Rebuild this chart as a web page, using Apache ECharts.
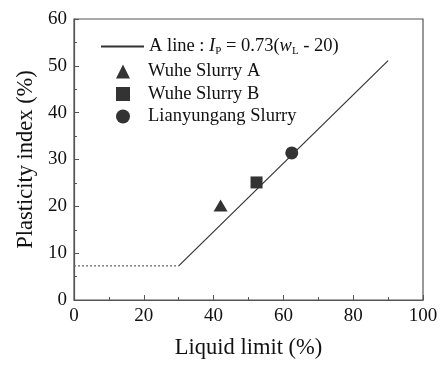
<!DOCTYPE html>
<html><head><meta charset="utf-8">
<script src="https://cdn.jsdelivr.net/npm/echarts@6/dist/echarts.min.js"></script>
<style>html,body{margin:0;padding:0;background:#fff}#c{width:442px;height:365px}</style>
</head><body><div id="c"></div>
<script>
// A line: Ip = 0.73 (wL - 20), drawn from wL = 30 to 90
var aLineX = [30, 90];
var aLineY = [7.3, 51.1];
// dotted horizontal extension
var dotX = [0, 30];
var dotY = [7.3, 7.3];
// samples
var wuheA = [[42, 20.2]];
var wuheB = [[52.3, 25.1]];
var lianyungang = [[62.4, 31.4]];
var xTicks = [0, 20, 40, 60, 80, 100];
var yTicks = [0, 10, 20, 30, 40, 50, 60];

var FONT = '"Liberation Serif", "DejaVu Serif", serif';
var chart = echarts.init(document.getElementById('c'), null, {renderer: 'canvas'});
function zip(a, b) { return a.map(function (v, i) { return [v, b[i]]; }); }
var axisColor = '#555';
var LF = 18.5;
chart.setOption({
  animation: false,
  textStyle: {fontFamily: FONT},
  grid: {left: 74, right: 19, top: 19, bottom: 64, show: true, borderColor: axisColor, borderWidth: 1.2},
  legend: [{
    orient: 'vertical', left: 95, top: 32, itemWidth: 43, itemHeight: 14,
    data: [{name: 'A', itemStyle: {opacity: 0}}],
    textStyle: {fontFamily: FONT, fontSize: LF, color: '#111',
      rich: {
        n: {fontFamily: FONT, fontSize: LF, color: '#111'},
        i: {fontFamily: FONT, fontSize: LF, fontStyle: 'italic', color: '#111'},
        s: {fontFamily: FONT, fontSize: 11, color: '#111', padding: [9, 0, 0, 0]}
      }},
    formatter: function () {
      return '{n|A line : }{i|I}{s|P}{n| = 0.73(}{i|w}{s|L}{n| - 20)}';
    }
  }, {
    orient: 'vertical', left: 111, top: 56, itemWidth: 14, itemHeight: 14, itemGap: 1.5,
    data: ['Wuhe Slurry A', 'Wuhe Slurry B', 'Lianyungang Slurry'],
    textStyle: {fontFamily: FONT, fontSize: LF, color: '#111', padding: [0, 0, 0, 13], lineHeight: 21}
  }],
  xAxis: {
    type: 'value', min: 0, max: 100, interval: 20,
    name: 'Liquid limit (%)', nameLocation: 'middle', nameGap: 37,
    nameTextStyle: {fontFamily: FONT, fontSize: 22.5, color: '#111'},
    axisLine: {show: true, lineStyle: {color: axisColor, width: 1.2}},
    axisTick: {show: true, inside: true, length: 5, lineStyle: {color: axisColor}},
    minorTick: {show: true, splitNumber: 2, length: 3, lineStyle: {color: axisColor}},
    splitLine: {show: false},
    axisLabel: {fontFamily: FONT, fontSize: 19, color: '#111', margin: 7,
      formatter: function (v) { return xTicks.indexOf(v) >= 0 ? String(v) : ''; }}
  },
  yAxis: {
    type: 'value', min: 0, max: 60, interval: 10,
    name: 'Plasticity index (%)', nameLocation: 'middle', nameGap: 36,
    nameTextStyle: {fontFamily: FONT, fontSize: 22.5, color: '#111'},
    axisLine: {show: true, lineStyle: {color: axisColor, width: 1.2}},
    axisTick: {show: true, inside: true, length: 5, lineStyle: {color: axisColor}},
    minorTick: {show: true, splitNumber: 2, length: 3, lineStyle: {color: axisColor}},
    splitLine: {show: false},
    axisLabel: {fontFamily: FONT, fontSize: 19, color: '#111', margin: 7,
      formatter: function (v) { return yTicks.indexOf(v) >= 0 ? String(v) : ''; }}
  },
  series: [
    {name: 'A', type: 'line', data: zip(aLineX, aLineY), symbol: 'none',
      lineStyle: {color: '#333', width: 1.2}, itemStyle: {color: '#333'}},
    {name: 'dot', type: 'line', data: zip(dotX, dotY), symbol: 'none',
      lineStyle: {color: '#666', width: 1.2, type: [2, 2]}},
    {name: 'Wuhe Slurry A', type: 'scatter', data: wuheA, symbol: 'triangle', symbolSize: [14, 12],
      itemStyle: {color: '#000'}},
    {name: 'Wuhe Slurry B', type: 'scatter', data: wuheB, symbol: 'rect', symbolSize: 12,
      itemStyle: {color: '#000'}},
    {name: 'Lianyungang Slurry', type: 'scatter', data: lianyungang, symbol: 'circle', symbolSize: 13,
      itemStyle: {color: '#000'}}
  ]
});
</script></body></html>
